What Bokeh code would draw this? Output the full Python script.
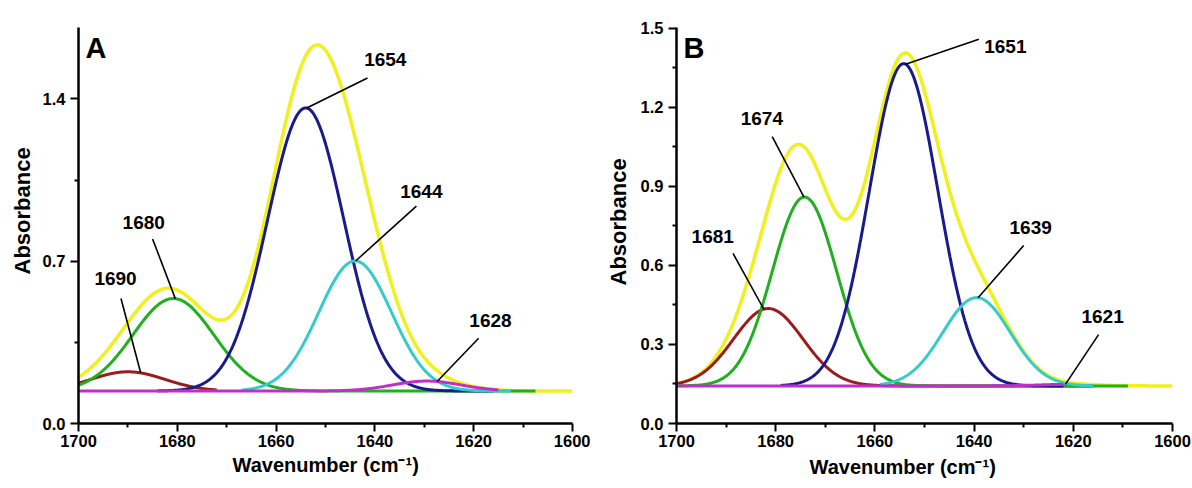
import numpy as np
from bokeh.plotting import figure
from bokeh.models import Range1d, FixedTicker, PrintfTickFormatter, ColumnDataSource, Title
from bokeh.layouts import row
from bokeh.embed import file_html
from bokeh.resources import INLINE
from bokeh.core.properties import value

# ---------------- data ----------------
wavenumber_ticks = [1700, 1680, 1660, 1640, 1620, 1600]
wavenumber_minor = [1690, 1670, 1650, 1630, 1610]
x_title = "Wavenumber (cm\u207b\u00b9)"
y_title = "Absorbance"

# Panel A: fitted amide I bands (centre, height above baseline, gaussian sigma)
a_baseline = 0.14
a_band_labels = ["1690", "1680", "1654", "1644", "1628"]
a_band_centers = [1690.0, 1680.8, 1654.0, 1644.0, 1629.5]
a_band_heights = [0.083, 0.399, 1.221, 0.561, 0.043]
a_band_sigmas = [7.5, 8.2, 7.7, 7.35, 7.0]
a_band_from = [1700, 1700, 1684, 1667, 1700]
a_band_to = [1672, 1607.5, 1616, 1612.5, 1615]
a_y_ticks = [0.0, 0.7, 1.4]
a_y_minor = [0.35, 1.05]

# Panel B
b_baseline = 0.1425
b_band_labels = ["1681", "1674", "1651", "1639", "1621"]
b_band_centers = [1681.5, 1674.2, 1654.2, 1639.5, 1621.0]
b_band_heights = [0.2935, 0.7165, 1.2225, 0.335, 0.006]
b_band_sigmas = [7.0, 6.5, 6.9, 6.8, 6.0]
b_band_from = [1700, 1700, 1679, 1659, 1700]
b_band_to = [1616, 1609, 1622, 1616, 1622]
b_y_ticks = [0.0, 0.3, 0.6, 0.9, 1.2, 1.5]
b_y_minor = [0.15, 0.45, 0.75, 1.05, 1.35]

# ---------------- layout / style (not data) ----------------
band_colors = ["#9B1B1B", "#1FAF1F", "#1A1A8C", "#33CCCC", "#C030C8"]
sum_color = "#F0F01E"
FONT = "Liberation Sans"

a_label_pos = [(1692.5, 0.595), (1686.8, 0.835), (1637.9, 1.541), (1630.6, 0.972), (1616.6, 0.415)]
a_leader_start = [(1691.4, 0.539), (1685.0, 0.796), (1641.5, 1.49), (1631.6, 0.9375), (1619.0, 0.368)]
a_leader_tip_x = [1687.4, 1680.4, 1653.8, 1643.9, 1627.4]

b_label_pos = [(1692.7, 0.682), (1682.8, 1.132), (1633.7, 1.402), (1628.6, 0.716), (1614.1, 0.379)]
b_leader_start = [(1688.6, 0.645), (1680.7, 1.088), (1639.05, 1.457), (1630.0, 0.675), (1614.9, 0.337)]
b_leader_tip_x = [1682.4, 1674.3, 1653.8, 1639.2, 1621.6]


def band(x, c, h, s, base):
    return base + h * np.exp(-((x - c) ** 2) / (2 * s * s))


def make_panel(letter, letter_pos, base, centers, heights, sigmas, b_from, b_to,
               labels, label_pos, leader_start, tip_x, yticks, yminor, ymax,
               width, borders, xt, yt):
    p = figure(width=width, height=488, output_backend="svg", toolbar_location=None,
               x_range=Range1d(1700, 1600), y_range=Range1d(0, ymax),
               min_border_left=borders[0], min_border_right=borders[1],
               min_border_top=borders[2], min_border_bottom=borders[3])
    p.outline_line_color = None
    p.grid.visible = False
    p.background_fill_color = "white"
    p.border_fill_color = "white"

    # measured spectrum (sum of bands)
    xs = np.linspace(1700, 1600, 801)
    ys = np.full_like(xs, base)
    for c, h, s in zip(centers, heights, sigmas):
        ys = ys + h * np.exp(-((xs - c) ** 2) / (2 * s * s))
    p.line(xs, ys, line_color=sum_color, line_width=3.5)

    for i, (c, h, s) in enumerate(zip(centers, heights, sigmas)):
        xb = np.linspace(b_from[i], b_to[i], 400)
        p.line(xb, band(xb, c, h, s, base), line_color=band_colors[i], line_width=3)

    tip_y = [float(band(tx, centers[i], heights[i], sigmas[i], base)) for i, tx in enumerate(tip_x)]
    seg = ColumnDataSource(dict(x0=[q[0] for q in leader_start], y0=[q[1] for q in leader_start],
                                x1=tip_x, y1=tip_y))
    p.segment("x0", "y0", "x1", "y1", source=seg, line_color="black", line_width=1.6)

    txt = ColumnDataSource(dict(x=[q[0] for q in label_pos], y=[q[1] for q in label_pos], t=labels))
    p.text("x", "y", text="t", source=txt, text_font=value(FONT), text_font_style="bold",
           text_font_size="19px", text_align="center", text_baseline="alphabetic",
           text_color="black", y_offset=-7)

    p.text(x=[letter_pos[0]], y=[letter_pos[1]], text=[letter], text_font=value(FONT),
           text_font_style="bold", text_font_size="29px", text_align="left",
           text_baseline="alphabetic", text_color="black", y_offset=-9)

    p.xaxis.ticker = FixedTicker(ticks=wavenumber_ticks, minor_ticks=wavenumber_minor)
    p.yaxis.ticker = FixedTicker(ticks=yticks, minor_ticks=yminor)
    p.yaxis.formatter = PrintfTickFormatter(format="%.1f")
    for ax in p.axis:
        ax.axis_line_width = 2.5
        ax.axis_line_color = "black"
        ax.major_tick_line_width = 2
        ax.minor_tick_line_width = 2
        ax.major_tick_line_color = "black"
        ax.minor_tick_line_color = "black"
        ax.major_tick_out = 8
        ax.major_tick_in = 0
        ax.minor_tick_out = 4
        ax.minor_tick_in = 0
        ax.major_label_text_font = FONT
        ax.major_label_text_font_style = "bold"
        ax.major_label_text_font_size = "16.5px"
        ax.major_label_text_color = "black"
    p.xaxis.major_label_standoff = 3
    p.yaxis.major_label_standoff = 5

    # axis titles as side-panel titles (left-aligned with an offset along the axis)
    p.add_layout(Title(text=x_title, align="left", offset=xt[0], standoff=xt[1],
                       text_font=FONT, text_font_style="bold", text_font_size="20px",
                       text_color="black"), "below")
    p.add_layout(Title(text=y_title, align="left", offset=yt[0], standoff=yt[1],
                       text_font=FONT, text_font_style="bold", text_font_size="22px",
                       text_color="black"), "left")
    return p


pA = make_panel("A", (1698.6, 1.58), a_baseline, a_band_centers, a_band_heights, a_band_sigmas,
                a_band_from, a_band_to, a_band_labels, a_label_pos, a_leader_start, a_leader_tip_x,
                a_y_ticks, a_y_minor, 1.708, 590, (78, 18, 27, 62), (154, 5), (149, 9))
pB = make_panel("B", (1698.6, 1.391), b_baseline, b_band_centers, b_band_heights, b_band_sigmas,
                b_band_from, b_band_to, b_band_labels, b_label_pos, b_leader_start, b_leader_tip_x,
                b_y_ticks, b_y_minor, 1.502, 602, (86, 20, 23, 65), (133, 8), (138, 13))

layout = row(pA, pB)
open("out.html", "w").write(file_html(layout, INLINE))
